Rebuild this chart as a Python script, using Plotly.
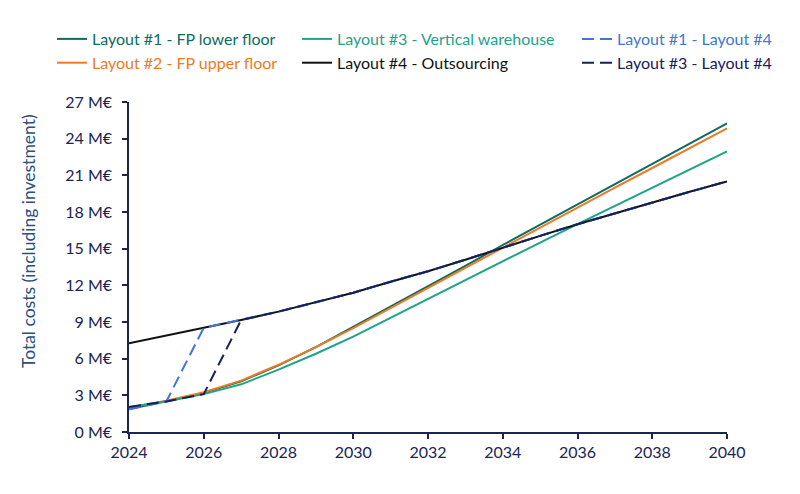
import plotly.graph_objects as go

# years on the x axis
years = list(range(2024, 2041))

# total costs in M EUR
layout1_fp_lower = [1.85, 2.5, 3.2, 4.15, 5.45, 6.95, 8.6, 10.3, 11.95, 13.6, 15.3,
                    16.95, 18.6, 20.25, 21.9, 23.6, 25.26]
layout2_fp_upper = [2.0, 2.55, 3.25, 4.2, 5.5, 6.95, 8.5, 10.15, 11.8, 13.45, 15.1,
                    16.75, 18.35, 20.0, 21.6, 23.25, 24.85]
layout3_vertical = [2.05, 2.5, 3.1, 3.9, 5.1, 6.4, 7.8, 9.35, 10.9, 12.45, 14.0,
                    15.5, 17.0, 18.5, 20.0, 21.5, 22.96]
layout4_outsourcing = [7.26, 7.88, 8.53, 9.16, 9.85, 10.6, 11.4, 12.3, 13.15, 14.1, 15.1,
                       16.05, 17.0, 17.9, 18.8, 19.65, 20.5]
layout1_to_4 = [1.85, 2.5, 8.53, 9.16, 9.85, 10.6, 11.4, 12.3, 13.15, 14.1, 15.1,
                16.05, 17.0, 17.9, 18.8, 19.65, 20.5]
layout3_to_4 = [2.05, 2.5, 3.1, 9.16, 9.85, 10.6, 11.4, 12.3, 13.15, 14.1, 15.1,
                16.05, 17.0, 17.9, 18.8, 19.65, 20.5]

y_ticks = [0, 3, 6, 9, 12, 15, 18, 21, 24, 27]
x_ticks = list(range(2024, 2041, 2))

NAVY = "#1b2452"
FONT = "Lato"

series = [
    ("Layout #1 - FP lower floor", layout1_fp_lower, "#0e6b5e", None, "legend"),
    ("Layout #2 - FP upper floor", layout2_fp_upper, "#ee7a24", None, "legend"),
    ("Layout #3 - Vertical warehouse", layout3_vertical, "#1fa386", None, "legend2"),
    ("Layout #4 - Outsourcing", layout4_outsourcing, "#111111", None, "legend2"),
    ("Layout #1 - Layout #4", layout1_to_4, "#3f78d2", "12px,6px", "legend3"),
    ("Layout #3 - Layout #4", layout3_to_4, "#16205c", "12px,6px", "legend3"),
]

fig = go.Figure()
for name, values, colour, dash, legend in series:
    fig.add_trace(go.Scatter(
        x=years, y=values, mode="lines",
        name="<span style='color:%s'>%s</span>" % (colour, name),
        line=dict(color=colour, width=2, dash=dash),
        legend=legend,
    ))

# three legend columns, like the original two-row legend
legend_style = dict(orientation="v", xref="container", yref="container",
                    xanchor="left", yanchor="top", y=1 - 14 / 494,
                    bgcolor="rgba(0,0,0,0)", tracegroupgap=0,
                    font=dict(family=FONT, size=16))

axis_style = dict(showgrid=False, zeroline=False, showline=True, linecolor=NAVY, linewidth=1.5,
                  ticks="outside", ticklen=5, tickcolor=NAVY, tickwidth=1.5,
                  tickfont=dict(family=FONT, size=16, color=NAVY))

fig.update_layout(
    width=800, height=494,
    margin=dict(l=121, r=81, t=94, b=70, autoexpand=False),
    paper_bgcolor="white", plot_bgcolor="white",
    font=dict(family=FONT, size=16, color=NAVY),
    legend=dict(legend_style, x=44 / 800),
    legend2=dict(legend_style, x=289 / 800),
    legend3=dict(legend_style, x=569 / 800),
    xaxis=dict(axis_style, range=[2024, 2040], tickmode="array", tickvals=x_ticks),
    yaxis=dict(axis_style, range=[0, 27], tickmode="array", tickvals=y_ticks,
               ticktext=["%d M€" % v for v in y_ticks], ticklabelstandoff=7),
    # axis title as an annotation so it sits where the original has it
    annotations=[dict(text="Total costs (including investment)", textangle=-90,
                      xref="paper", yref="paper", x=-0.167, y=0.579,
                      xanchor="center", yanchor="middle",
                      showarrow=False, font=dict(family=FONT, size=17.5, color="#2b4f80"))],
)

fig.write_html("out.html")
